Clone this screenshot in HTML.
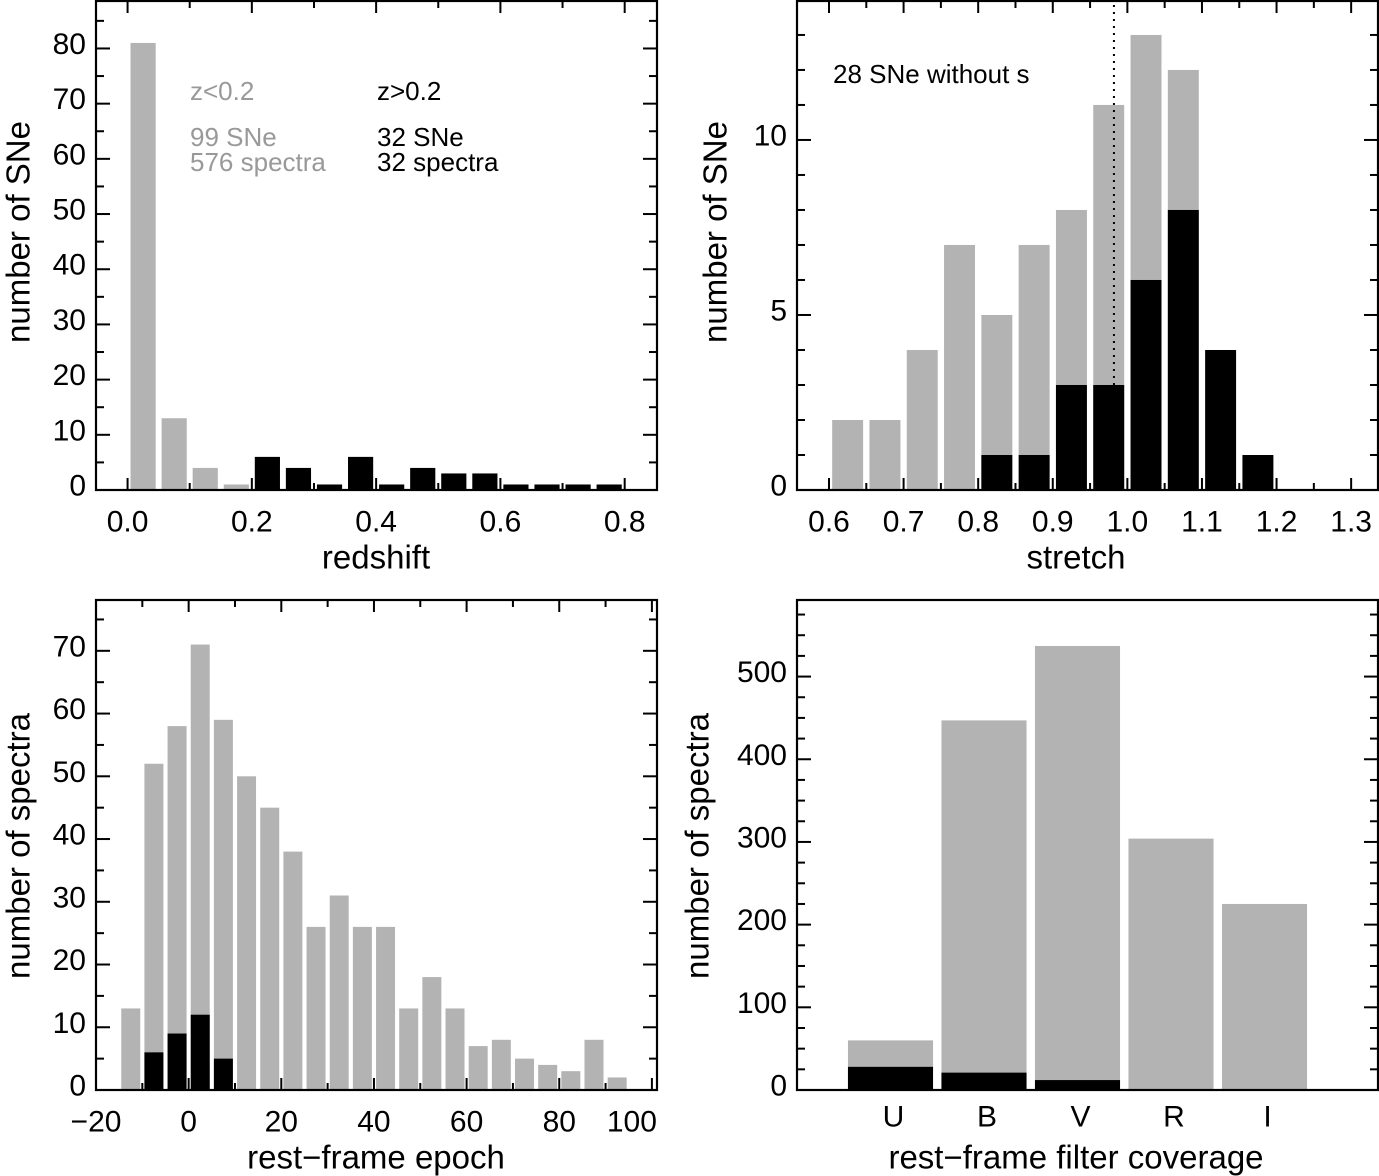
<!DOCTYPE html>
<html><head><meta charset="utf-8">
<style>
html,body{margin:0;padding:0;background:#fff;}
svg{display:block;font-family:"Liberation Sans",Arial,sans-serif;}
</style></head>
<body>
<svg id="fig" width="1379" height="1176" viewBox="0 0 1379 1176"></svg>
<script>
// Panel 1: redshift histogram
const zCenters = [0.025,0.075,0.125,0.175,0.225,0.275,0.325,0.375,0.425,0.475,0.525,0.575,0.625,0.675,0.725,0.775];
const zGray =    [81,13,4,1,0,0,0,0,0,0,0,0,0,0,0,0];
const zBlack =   [0,0,0,0,6,4,1,6,1,4,3,3,1,1,1,1];
const zTicks = [0.0,0.2,0.4,0.6,0.8];
const zYTicks = [0,10,20,30,40,50,60,70,80];
// Panel 2: stretch histogram
const sCenters = [0.625,0.675,0.725,0.775,0.825,0.875,0.925,0.975,1.025,1.075,1.125,1.175];
const sGray =    [2,2,4,7,5,7,8,11,13,12,0,0];
const sBlack =   [0,0,0,0,1,1,3,3,6,8,4,1];
const sTicks = [0.6,0.7,0.8,0.9,1.0,1.1,1.2,1.3];
const sYTicks = [0,5,10];
const sLine = 0.982;
// Panel 3: epoch histogram
const eCenters = [-12.5,-7.5,-2.5,2.5,7.5,12.5,17.5,22.5,27.5,32.5,37.5,42.5,47.5,52.5,57.5,62.5,67.5,72.5,77.5,82.5,87.5,92.5];
const eGray =    [13,52,58,71,59,50,45,38,26,31,26,26,13,18,13,7,8,5,4,3,8,2];
const eBlack =   [0,6,9,12,5,0,0,0,0,0,0,0,0,0,0,0,0,0,0,0,0,0];
const eTicks = [-20,0,20,40,60,80,100];
const eYTicks = [0,10,20,30,40,50,60,70];
// Panel 4: filter coverage
const fCats = ["U","B","V","R","I"];
const fGray = [60,447,537,304,225];
const fBlack = [28,21,12,0,0];
const fYTicks = [0,100,200,300,400,500];

const NS="http://www.w3.org/2000/svg";
const svg=document.getElementById('fig');
const GRAY="#b3b3b3";
const TICKFS=30, TITLEFS=33;
function mk(tag,attrs,parent){const e=document.createElementNS(NS,tag);for(const k in attrs)e.setAttribute(k,attrs[k]);(parent||svg).appendChild(e);return e;}
function txt(s,x,y,size,anchor,color,parent,rot){
  const t=mk('text',{x:x,y:y,'font-size':size,'text-anchor':anchor||'middle',fill:color||'#000','dominant-baseline':'central'},parent);
  if(rot)t.setAttribute('transform','rotate(-90 '+x+' '+y+')');
  t.textContent=s;return t;}

function panel(name,box,xd,yd){
  const g=mk('g',{},svg);
  
  
  const sx=v=>box.x0+(v-xd[0])/(xd[1]-xd[0])*(box.x1-box.x0);
  const sy=v=>box.y1-(v-yd[0])/(yd[1]-yd[0])*(box.y1-box.y0);
  return {g,sx,sy,box};
}
function bars(P,centers,gray,black,w,prefix){
  centers.forEach((c,i)=>{
    const x0=P.sx(c-w/2),x1=P.sx(c+w/2);
    if(gray[i]>0){const r=mk('rect',{x:x0,y:P.sy(gray[i]),width:x1-x0,height:P.sy(0)-P.sy(gray[i]),fill:GRAY},P.g);
      
      }
    if(black[i]>0){const r=mk('rect',{x:x0,y:P.sy(black[i]),width:x1-x0,height:P.sy(0)-P.sy(black[i]),fill:'#000'},P.g);
      
      }
  });
}
function frame(P,xt,xminor,ymajor,yminor,ylabels,xlabels,fmtX,fmtY,xoff){
  const b=P.box;
  mk('rect',{x:b.x0,y:b.y0,width:b.x1-b.x0,height:b.y1-b.y0,fill:'none',stroke:'#000','stroke-width':2.2},P.g);
  if(xminor){xminor.forEach(v=>{const x=P.sx(v);const L=xt.includes(v)?12:7;
    mk('line',{x1:x,x2:x,y1:b.y1,y2:b.y1-L,stroke:'#000','stroke-width':2},P.g);
    mk('line',{x1:x,x2:x,y1:b.y0,y2:b.y0+L,stroke:'#000','stroke-width':2},P.g);});}
  yminor.forEach(v=>{const y=P.sy(v);const L=ymajor.includes(v)?14:8;
    mk('line',{x1:b.x0,x2:b.x0+L,y1:y,y2:y,stroke:'#000','stroke-width':2},P.g);
    mk('line',{x1:b.x1,x2:b.x1-L,y1:y,y2:y,stroke:'#000','stroke-width':2},P.g);});
  ylabels.forEach(v=>{const t=txt(fmtY(v),b.x0-10,P.sy(v)-4,TICKFS,'end','#000',P.g);
    
    });
  xlabels.forEach((v,i)=>{const t=txt(fmtX(v),P.sx(v)+((xoff&&xoff[i])||0),b.y1+32,TICKFS,'middle','#000',P.g);
    
    });
}
function range(a,b,s){const r=[];for(let v=a;v<=b+1e-9;v+=s)r.push(Math.round(v*1000)/1000);return r;}

// Panel 1
const P1=panel('redshift-panel',{x0:96,x1:657,y0:1,y1:490},[-0.0508,0.852],[0,88.6]);
bars(P1,zCenters,zGray,zBlack,0.0405,'redshift');
frame(P1,zTicks,range(0,0.8,0.1),zYTicks,range(0,85,5),zYTicks,zTicks,v=>v.toFixed(1),v=>String(v));
let t;
t=txt('redshift',376,557,TITLEFS,'middle','#000',P1.g);
t=txt('number of SNe',18,232,TITLEFS,'middle','#000',P1.g,true);
t=txt('z<0.2',190,91,26,'start','#999',P1.g);
t=txt('z>0.2',377,91,26,'start','#000',P1.g);
t=txt('99 SNe',190,137,26,'start','#999',P1.g);
t=txt('576 spectra',190,162,26,'start','#999',P1.g);
t=txt('32 SNe',377,137,26,'start','#000',P1.g);
t=txt('32 spectra',377,162,26,'start','#000',P1.g);

// Panel 2
const P2=panel('stretch-panel',{x0:797,x1:1378,y0:1,y1:490},[0.5571,1.336],[0,13.97]);
bars(P2,sCenters,sGray,sBlack,0.0415,'stretch');
frame(P2,sTicks,range(0.6,1.3,0.05),sYTicks,range(0,13,1),sYTicks,sTicks,v=>v.toFixed(1),v=>String(v));
const dl=mk('line',{x1:P2.sx(sLine),x2:P2.sx(sLine),y1:P2.sy(0),y2:2,stroke:'#000','stroke-width':2,'stroke-dasharray':'2,5'},P2.g);


t=txt('stretch',1076,557,TITLEFS,'middle','#000',P2.g);
t=txt('number of SNe',715,232,TITLEFS,'middle','#000',P2.g,true);
t=txt('28 SNe without s',833,74,26,'start','#000',P2.g);

// Panel 3
const P3=panel('epoch-panel',{x0:96,x1:657,y0:600,y1:1090},[-20.0,101.1],[0,78.1]);
bars(P3,eCenters,eGray,eBlack,4.1,'epoch');
frame(P3,eTicks,range(-20,100,10),eYTicks,range(0,75,5),eYTicks,eTicks,v=>(v<0?'\u2212'+(-v):String(v)),v=>String(v),[0,0,0,0,0,0,-20]);
t=txt('rest\u2212frame epoch',376,1157,TITLEFS,'middle','#000',P3.g);
t=txt('number of spectra',18,846,TITLEFS,'middle','#000',P3.g,true);

// Panel 4
const P4=panel('filter-panel',{x0:797,x1:1378,y0:600,y1:1090},[-1,5.214],[0,592.6]);
const fIdx=fCats.map((c,i)=>i);
bars(P4,fIdx,fGray,fBlack,0.91,'filter');
frame(P4,[],null,fYTicks,range(0,575,25),fYTicks,[],v=>'',v=>String(v));
fCats.forEach((c,i)=>{const tt=txt(c,P4.sx(i)+3,1117,TICKFS,'middle','#000',P4.g);
  
  });
t=txt('rest\u2212frame filter coverage',1076,1157,TITLEFS,'middle','#000',P4.g);
t=txt('number of spectra',697,846,TITLEFS,'middle','#000',P4.g,true);
</script>
</body></html>
